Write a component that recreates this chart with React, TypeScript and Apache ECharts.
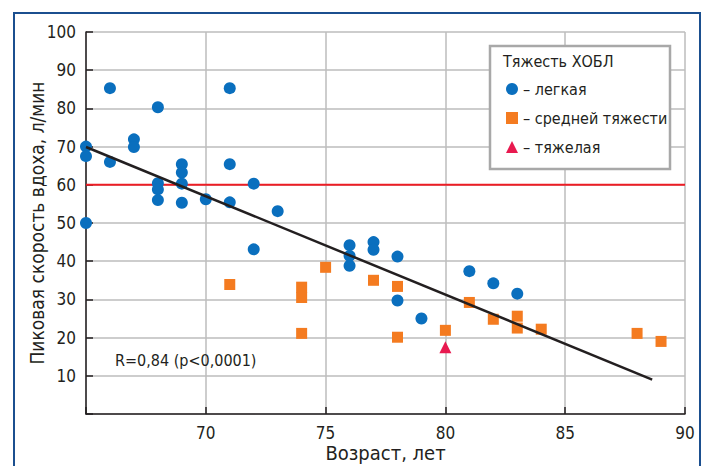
import React, { useEffect, useRef } from "react";
import * as echarts from "echarts";

const mildData: number[][] = [
  [65, 70.0], [65, 67.5], [65, 50.0], [66, 85.3], [66, 66.0], [67, 71.9], [67, 69.9],
  [68, 80.3], [68, 60.4], [68, 58.8], [68, 56.0], [69, 65.4], [69, 63.2], [69, 60.3],
  [69, 55.3], [70, 56.2], [71, 85.3], [71, 65.4], [71, 55.4], [72, 60.3], [72, 43.1],
  [73, 53.1], [76, 44.2], [76, 41.4], [76, 38.8], [77, 45.0], [77, 43.0], [78, 41.2],
  [78, 29.7], [79, 25.0], [81, 37.4], [82, 34.2], [83, 31.5],
];
const moderateData: number[][] = [
  [71, 33.9], [74, 33.2], [74, 30.5], [74, 21.1], [75, 38.4], [77, 35.0], [78, 33.4],
  [78, 20.1], [80, 21.9], [81, 29.2], [82, 24.8], [83, 25.6], [83, 22.5], [84, 22.2],
  [88, 21.1], [89, 19.0],
];
const severeData: number[][] = [[80, 17.5]];
const regressionLine: number[][] = [[65, 69.9], [88.63, 9.0]];
const thresholdLine: number[][] = [[65, 60], [90, 60]];

const seriesNames = ["– легкая", "– средней тяжести", "– тяжелая"];
const legendTitle = "Тяжесть ХОБЛ";
const xAxisName = "Возраст, лет";
const yAxisName = "Пиковая скорость вдоха, л/мин";
const corrText = "R=0,84 (p<0,0001)";

const FONT = "'DejaVu Sans Condensed', 'Liberation Sans Narrow', 'Liberation Sans', sans-serif";

export default function App() {
  const ref = useRef<HTMLDivElement>(null);
  useEffect(() => {
    if (!ref.current) return;
    const chart = echarts.init(ref.current, undefined, { renderer: "svg" });
    chart.setOption({
      animation: false,
      backgroundColor: "#ffffff",
      textStyle: { fontFamily: FONT },
      grid: { left: 86, right: 18, top: 32, bottom: 52, outerBoundsMode: "none", containLabel: false },
      xAxis: {
        type: "value",
        min: 65,
        max: 90,
        interval: 5,
        name: xAxisName,
        nameLocation: "middle",
        nameGap: 29,
        nameMoveOverlap: false,
        nameTextStyle: { fontSize: 20, color: "#231f20", fontFamily: FONT, verticalAlign: "top" },
        axisLine: { lineStyle: { color: "#231f20", width: 1.5 } },
        axisTick: { inside: true, length: 7, lineStyle: { color: "#231f20", width: 1.5 } },
        axisLabel: {
          fontSize: 17,
          color: "#231f20",
          fontFamily: FONT,
          margin: 10,
          formatter: (v: number) => (v === 65 ? "" : String(v)),
        },
        splitLine: { show: true, lineStyle: { color: "#bdbdbd", width: 1.5 } },
      },
      yAxis: {
        type: "value",
        min: 0,
        max: 100,
        interval: 10,
        name: yAxisName,
        nameLocation: "middle",
        nameGap: 40,
        nameMoveOverlap: false,
        nameTextStyle: { fontSize: 19, color: "#231f20", fontFamily: FONT, verticalAlign: "bottom" },
        axisLine: { show: true, lineStyle: { color: "#231f20", width: 1.5 } },
        axisTick: { show: true, inside: true, length: 7, lineStyle: { color: "#231f20", width: 1.5 } },
        axisLabel: {
          fontSize: 17,
          color: "#231f20",
          fontFamily: FONT,
          margin: 10,
          formatter: (v: number) => (v === 0 ? "" : String(v)),
        },
        splitLine: { show: true, lineStyle: { color: "#bdbdbd", width: 1.5 } },
      },
      legend: {
        orient: "vertical",
        left: 506,
        top: 80,
        z: 10,
        itemWidth: 12,
        itemHeight: 12,
        itemGap: 11,
        padding: 0,
        data: [
          { name: seriesNames[0], icon: "circle" },
          { name: seriesNames[1], icon: "rect" },
          { name: seriesNames[2], icon: "triangle" },
        ],
        textStyle: { fontSize: 16, color: "#231f20", fontFamily: FONT, lineHeight: 18 },
      },
      graphic: [
        {
          type: "rect",
          shape: { x: 14, y: 13, width: 686, height: 470 },
          style: { fill: "none", stroke: "#1b4f8f", lineWidth: 2 },
          silent: true,
        },
        {
          type: "rect",
          shape: { x: 490, y: 46, width: 180, height: 123 },
          style: { fill: "#ffffff", stroke: "#a8a8a8", lineWidth: 2.5 },
          z: 5,
          silent: true,
        },
        {
          type: "text",
          x: 503,
          y: 61,
          style: { text: legendTitle, fontSize: 16, fill: "#231f20", fontFamily: FONT, verticalAlign: "middle" },
          z: 6,
          silent: true,
        },
        {
          type: "text",
          x: 115,
          y: 360,
          style: { text: corrText, fontSize: 16, fill: "#231f20", fontFamily: FONT, verticalAlign: "middle" },
          z: 6,
          silent: true,
        },
      ],
      series: [
        {
          type: "line",
          data: thresholdLine,
          symbol: "none",
          lineStyle: { color: "#ed1c24", width: 2 },
          z: 1,
          silent: true,
        },
        {
          type: "line",
          data: regressionLine,
          symbol: "none",
          lineStyle: { color: "#231f20", width: 2.5 },
          z: 4,
          silent: true,
        },
        {
          name: seriesNames[0],
          type: "scatter",
          data: mildData,
          symbol: "circle",
          symbolSize: 12,
          itemStyle: { color: "#0a6fbe", opacity: 1 },
          z: 3,
        },
        {
          name: seriesNames[1],
          type: "scatter",
          data: moderateData,
          symbol: "rect",
          symbolSize: 11,
          itemStyle: { color: "#f47b20", opacity: 1 },
          z: 3,
        },
        {
          name: seriesNames[2],
          type: "scatter",
          data: severeData,
          symbol: "triangle",
          symbolSize: 12,
          itemStyle: { color: "#e8194f", opacity: 1 },
          z: 3,
        },
      ],
    });
    return () => chart.dispose();
  }, []);
  return (
    <div
      ref={ref}
      style={{ position: "fixed", left: 0, top: 0, width: 703, height: 466 }}
    />
  );
}
